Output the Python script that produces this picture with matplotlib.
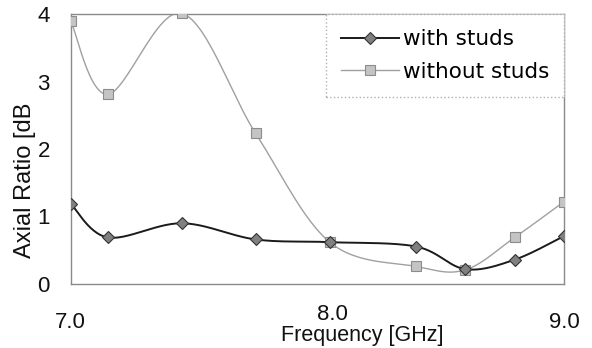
import matplotlib
matplotlib.use("Agg")
import matplotlib.pyplot as plt
import numpy as np
from matplotlib.transforms import ScaledTranslation

# data
freq = [7.0, 7.15, 7.45, 7.75, 8.05, 8.4, 8.6, 8.8, 9.0]
with_studs = [1.19, 0.69, 0.90, 0.66, 0.62, 0.555, 0.22, 0.36, 0.71]
without_studs = [3.90, 2.81, 4.01, 2.23, 0.62, 0.26, 0.21, 0.69, 1.22]
xtick_vals = [7.0, 8.0, 9.0]
xtick_text = ["7.0", "8.0", "9.0"]
ytick_vals = [0, 1, 2, 3, 4]


def smooth(xs, ys, n=30):
	# Catmull-Rom curve through the points (like a spreadsheet "smoothed line")
	p = np.column_stack([xs, ys]).astype(float)
	p = np.vstack([p[0], p, p[-1]])
	out = []
	t = np.linspace(0, 1, n)[:, None]
	for i in range(1, len(p) - 2):
		p0, p1, p2, p3 = p[i - 1], p[i], p[i + 1], p[i + 2]
		seg = 0.5 * ((2 * p1) + (-p0 + p2) * t + (2 * p0 - 5 * p1 + 4 * p2 - p3) * t ** 2
					 + (-p0 + 3 * p1 - 3 * p2 + p3) * t ** 3)
		out.append(seg if i == 1 else seg[1:])
	out = np.vstack(out)
	return out[:, 0], out[:, 1]


plt.rcParams['font.family'] = ['Liberation Sans', 'DejaVu Sans']

fig = plt.figure(figsize=(5.92, 3.48), dpi=100)
ax = fig.add_axes([70.7 / 592, 1 - 284 / 348, (564 - 70.7) / 592, (284 - 14) / 348])

sx, sy = smooth(freq, without_studs)
ax.plot(sx, sy, color="#a0a0a0", lw=1.0, zorder=2)
ax.plot(freq, without_studs, ls="none", marker="s", ms=7.5, mfc="#c4c4c4", mec="#8c8c8c",
		mew=0.8, zorder=3)
sx, sy = smooth(freq, with_studs)
ax.plot(sx, sy, color="#1a1a1a", lw=1.4, zorder=4)
ax.plot(freq, with_studs, ls="none", marker="D", ms=6.5, mfc="#808080", mec="#333333",
		mew=0.8, zorder=5)

# legend handles
h1, = ax.plot([], [], color="#1a1a1a", lw=1.4, marker="D", ms=6.5, mfc="#808080", mec="#333333",
			  mew=0.8, label="with studs")
h2, = ax.plot([], [], color="#a0a0a0", lw=1.0, marker="s", ms=7.5, mfc="#c4c4c4", mec="#8c8c8c",
			  mew=0.8, label="without studs")
leg = ax.legend(handles=[h1, h2], loc="upper right", bbox_to_anchor=(1.0, 1.0),
				prop={"family": "DejaVu Sans", "size": 15.5}, handlelength=2.7,
				handletextpad=0.15, labelspacing=0.6, borderaxespad=0.0, borderpad=0.7,
				fancybox=False, framealpha=1.0)
leg.get_frame().set_edgecolor("#b0b0b0")
leg.get_frame().set_linestyle(":")
leg.get_frame().set_linewidth(1.0)

ax.set_xlim(7.0, 9.0)
ax.set_ylim(0, 4)
ax.set_xticks(xtick_vals)
ax.set_xticklabels(xtick_text)
ax.set_yticks(ytick_vals)
ax.tick_params(axis="both", length=0, labelsize=16, colors="#111111")
ax.tick_params(axis="x", pad=20)
ax.tick_params(axis="y", pad=15)
for s in ax.spines.values():
	s.set_color("#8a8a8a")
	s.set_linewidth(1.0)

mid = ax.get_xticklabels()[1]
mid.set_transform(mid.get_transform() + ScaledTranslation(0.15, 0.08, fig.dpi_scale_trans))

fig.text(25 / 592, 1 - 180 / 348, "Axial Ratio [dB", rotation=90, ha="center", va="center",
		 fontsize=17, color="#111111")
fig.text(362 / 592, 1 - 335 / 348, "Frequency [GHz]", ha="center", va="center",
		 fontsize=15.5, color="#111111")

fig.savefig("out.png", dpi=100)
